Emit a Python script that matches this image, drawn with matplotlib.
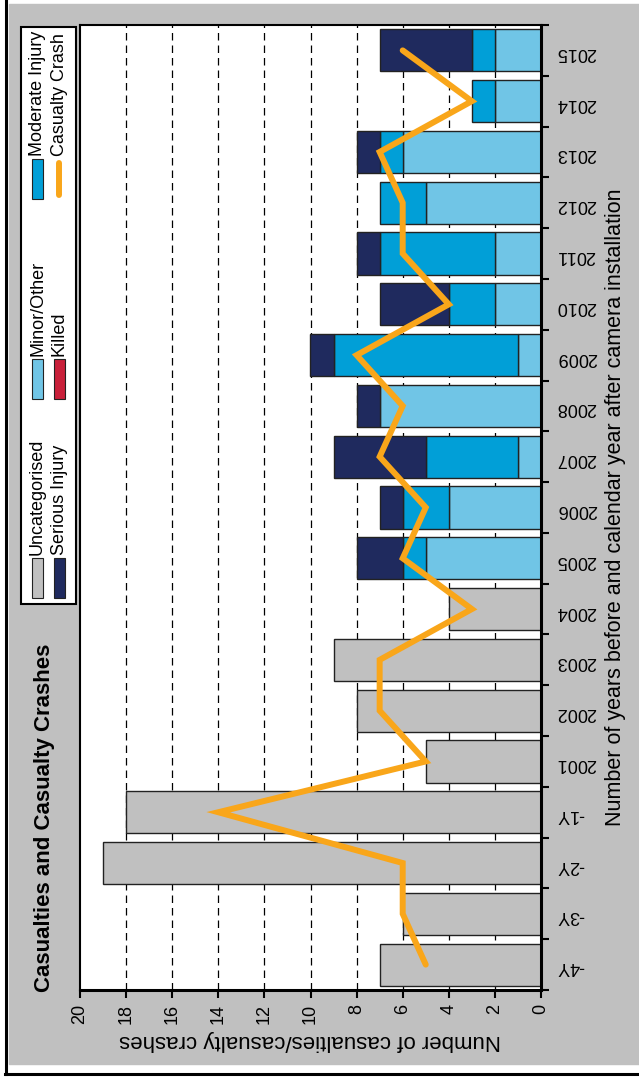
import numpy as np
import matplotlib.pyplot as plt
from matplotlib.patches import Rectangle
from matplotlib.lines import Line2D

plt.rcParams['font.family'] = ['Liberation Sans', 'DejaVu Sans']

categories = ['-4Y', '-3Y', '-2Y', '-1Y', '2001', '2002', '2003', '2004', '2005', '2006',
              '2007', '2008', '2009', '2010', '2011', '2012', '2013', '2014', '2015']
uncategorised = [7, 6, 19, 18, 5, 8, 9, 4, 0, 0, 0, 0, 0, 0, 0, 0, 0, 0, 0]
minor_other = [0, 0, 0, 0, 0, 0, 0, 0, 5, 4, 1, 7, 1, 2, 2, 5, 6, 2, 2]
moderate = [0, 0, 0, 0, 0, 0, 0, 0, 1, 2, 4, 0, 8, 2, 5, 2, 1, 1, 1]
serious = [0, 0, 0, 0, 0, 0, 0, 0, 2, 1, 4, 1, 1, 3, 1, 0, 1, 0, 4]
killed = [0] * 19
casualty_crash = [5, 6, 6, 14, 5, 7, 7, 3, 6, 5, 7, 6, 8, 4, 6, 6, 7, 3, 6]

GREY = '#C0C0C0'
LIGHT = '#70C5E6'
MID = '#019FD7'
NAVY = '#1F2A5E'
RED = '#C8203A'
ORANGE = '#F9A61A'

W, H = 639, 1086


def fx(x):
    return x / W


def fy(y):
    return 1 - y / H


fig = plt.figure(figsize=(W / 100, H / 100), dpi=100, facecolor='white')

# grey panel and outer frame
fig.patches.append(Rectangle((fx(9), fy(1064)), (W - 9) / W, 1060 / H,
                             transform=fig.transFigure, color=GREY, zorder=-10))
fig.lines.append(Line2D([fx(5.5), fx(5.5)], [fy(0), fy(1074)], transform=fig.transFigure,
                        color='black', lw=2.2))
fig.lines.append(Line2D([fx(4.5), fx(W)], [fy(1074), fy(1074)], transform=fig.transFigure,
                        color='black', lw=2.2))

ax = fig.add_axes([fx(80), fy(990), 461 / W, 965 / H])
ax.set_facecolor('white')

y = np.arange(len(categories))
h = 0.83
edge = dict(edgecolor='#222222', linewidth=1.0)
ax.barh(y, uncategorised, height=h, color=GREY, zorder=2, **edge)
left = np.zeros(len(y))
for vals, col in [(minor_other, LIGHT), (moderate, MID), (serious, NAVY), (killed, RED)]:
    v = np.array(vals, dtype=float)
    m = v > 0
    ax.barh(y[m], v[m], left=left[m], height=h, color=col, zorder=2, **edge)
    left += v

ax.plot(casualty_crash, y, color=ORANGE, lw=4.3, solid_capstyle='round',
        solid_joinstyle='miter', zorder=4)

for g in range(2, 20, 2):
    ax.axvline(g, color='black', lw=0.9, ls=(0, (6, 4)), zorder=1)

ax.set_xlim(20, 0)
ax.set_ylim(-0.5, len(categories) - 0.5)

ax.set_xticks(range(0, 21, 2))
ax.set_xticklabels([str(v) for v in range(0, 21, 2)], rotation=90, fontsize=13)
ax.tick_params(axis='x', direction='out', length=6, width=1.5, pad=4)

ax.yaxis.tick_right()
ax.set_yticks(np.arange(-0.5, len(categories), 1.0))
ax.set_yticklabels([])
ax.set_yticks(y, minor=True)
ax.set_yticklabels(categories, minor=True, rotation=180, fontsize=13)
ax.tick_params(axis='y', which='major', direction='out', length=6, width=1.5)
ax.tick_params(axis='y', which='minor', length=0, pad=11)

ax.set_xlabel('Number of casualties/casualty crashes', rotation=180, fontsize=16, labelpad=4)
ax.yaxis.set_label_position('right')
ax.set_ylabel('Number of years before and calendar year after camera installation',
              rotation=90, fontsize=15.5, labelpad=6)

for side in ['left', 'top']:
    ax.spines[side].set_linewidth(1.5)
for side in ['right', 'bottom']:
    ax.spines[side].set_linewidth(2.2)

# title
fig.text(fx(45), fy(992), 'Casualties and Casualty Crashes', rotation=90,
         fontsize=16, fontweight='bold', ha='center', va='bottom')

# legend drawn by hand (chart is turned on its side)
fig.patches.append(Rectangle((fx(21), fy(604)), 55 / W, 577 / H, transform=fig.transFigure,
                             facecolor='white', edgecolor='black', lw=1.5, zorder=1))
legend_items = [
    ('Uncategorised', GREY, 0, 598),
    ('Serious Injury', NAVY, 1, 598),
    ('Minor/Other', LIGHT, 0, 399),
    ('Killed', RED, 1, 399),
    ('Moderate Injury', MID, 0, 199),
    ('Casualty Crash', ORANGE, 1, 199),
]
for label, col, row, ystart in legend_items:
    xc = 37.5 if row == 0 else 59
    if label == 'Casualty Crash':
        fig.lines.append(Line2D([fx(xc), fx(xc)], [fy(ystart - 4), fy(ystart - 36)],
                                transform=fig.transFigure, color=col, lw=4.3,
                                solid_capstyle='round', zorder=2))
    else:
        fig.patches.append(Rectangle((fx(xc - 5.5), fy(ystart)), 11 / W, 40 / H,
                                     transform=fig.transFigure, facecolor=col,
                                     edgecolor='#222222', lw=0.8, zorder=2))
    fig.text(fx(xc), fy(ystart - 43), label, rotation=90, fontsize=13,
             ha='center', va='bottom', zorder=3)

fig.savefig('out.png', dpi=100, facecolor='white')
